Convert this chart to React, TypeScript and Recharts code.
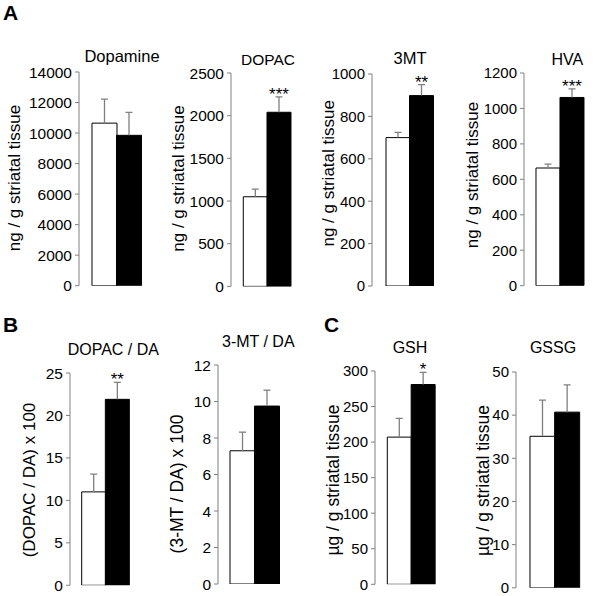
import React from 'react';
import { BarChart, Bar, XAxis, YAxis, Cell, LabelList } from 'recharts';

// ---------- data ----------
const groups = ['Control', 'Treated'];

const dopamineMean = [10650, 9850];
const dopamineSem = [1570, 1510];
const dopamineStars = ['', ''];
const dopamineTicks = [0, 2000, 4000, 6000, 8000, 10000, 12000, 14000];

const dopacMean = [1050, 2040];
const dopacSem = [90, 180];
const dopacStars = ['', '***'];
const dopacTicks = [0, 500, 1000, 1500, 2000, 2500];

const mt3Mean = [700, 898];
const mt3Sem = [25, 52];
const mt3Stars = ['', '**'];
const mt3Ticks = [0, 200, 400, 600, 800, 1000];

const hvaMean = [664, 1062];
const hvaSem = [22, 48];
const hvaStars = ['', '***'];
const hvaTicks = [0, 200, 400, 600, 800, 1000, 1200];

const dopacDaMean = [11.0, 21.9];
const dopacDaSem = [2.1, 2.0];
const dopacDaStars = ['', '**'];
const dopacDaTicks = [0, 5, 10, 15, 20, 25];

const mtDaMean = [7.3, 9.75];
const mtDaSem = [1.02, 0.87];
const mtDaStars = ['', ''];
const mtDaTicks = [0, 2, 4, 6, 8, 10, 12];

const gshMean = [207, 281];
const gshSem = [26.5, 17];
const gshStars = ['', '*'];
const gshTicks = [0, 50, 100, 150, 200, 250, 300];

const gssgMean = [35.1, 40.7];
const gssgSem = [8.4, 6.3];
const gssgStars = ['', ''];
const gssgTicks = [0, 10, 20, 30, 40, 50];

const titles = ['Dopamine', 'DOPAC', '3MT', 'HVA', 'DOPAC / DA', '3-MT / DA', 'GSH', 'GSSG'];
const yLabels = [
  'ng / g striatal tissue',
  'ng / g striatal tissue',
  'ng / g striatal tissue',
  'ng / g striatal tissue',
  '(DOPAC / DA) x 100',
  '(3-MT / DA) x 100',
  'µg / g striatal tissue',
  'µg / g striatal tissue',
];
const panelLetters = ['A', 'B', 'C'];

// ---------- styles / layout ----------
const FONT = '"Liberation Sans", Arial, Helvetica, sans-serif';
const GRAY = '#7f7f7f';

type Layout = {
  axisX: number; xEnd: number; yTop: number; yBot: number; barL: number; barR: number;
  tickSize: number; titleX: number; titleY: number; titleSize: number;
  labX: number; labY: number; labSize: number;
};

const layouts: Layout[] = [
  { axisX: 79, xEnd: 152, yTop: 72.3, yBot: 286, barL: 92, barR: 141, tickSize: 15.5, titleX: 122, titleY: 62, titleSize: 16.5, labX: 14.5, labY: 178, labSize: 17 },
  { axisX: 231, xEnd: 301.7, yTop: 73.3, yBot: 286.7, barL: 243.3, barR: 290.7, tickSize: 15.5, titleX: 268, titleY: 65, titleSize: 15.5, labX: 178.3, labY: 178.5, labSize: 17 },
  { axisX: 371.7, xEnd: 446.7, yTop: 74, yBot: 286, barL: 385.7, barR: 432.7, tickSize: 15, titleX: 410, titleY: 63.5, titleSize: 16.5, labX: 328.3, labY: 173.3, labSize: 17 },
  { axisX: 524, xEnd: 595.7, yTop: 73.3, yBot: 286, barL: 536, barR: 584, tickSize: 15, titleX: 567.3, titleY: 65, titleSize: 16, labX: 472, labY: 175, labSize: 17 },
  { axisX: 70, xEnd: 141.7, yTop: 372.7, yBot: 585, barL: 81.7, barR: 129, tickSize: 15.5, titleX: 113.3, titleY: 355, titleSize: 16, labX: 29, labY: 480, labSize: 17 },
  { axisX: 218, xEnd: 290, yTop: 365, yBot: 584, barL: 230, barR: 279, tickSize: 15.5, titleX: 258.3, titleY: 347, titleSize: 16, labX: 176.5, labY: 484, labSize: 17.5 },
  { axisX: 375, xEnd: 446, yTop: 371, yBot: 584.3, barL: 387.3, barR: 435, tickSize: 15, titleX: 410, titleY: 353, titleSize: 16, labX: 333, labY: 480, labSize: 17.5 },
  { axisX: 516, xEnd: 590, yTop: 371.7, yBot: 587.5, barL: 530, barR: 579.3, tickSize: 15, titleX: 553, titleY: 353, titleSize: 16, labX: 483, labY: 480.5, labSize: 17.5 },
];

const letterPos = [
  { x: 3, y: 19.5 },
  { x: 3, y: 332 },
  { x: 324, y: 332 },
];

const panelData = [
  { mean: dopamineMean, sem: dopamineSem, stars: dopamineStars, ticks: dopamineTicks },
  { mean: dopacMean, sem: dopacSem, stars: dopacStars, ticks: dopacTicks },
  { mean: mt3Mean, sem: mt3Sem, stars: mt3Stars, ticks: mt3Ticks },
  { mean: hvaMean, sem: hvaSem, stars: hvaStars, ticks: hvaTicks },
  { mean: dopacDaMean, sem: dopacDaSem, stars: dopacDaStars, ticks: dopacDaTicks },
  { mean: mtDaMean, sem: mtDaSem, stars: mtDaStars, ticks: mtDaTicks },
  { mean: gshMean, sem: gshSem, stars: gshStars, ticks: gshTicks },
  { mean: gssgMean, sem: gssgSem, stars: gssgStars, ticks: gssgTicks },
];

const barFills = ['#ffffff', '#000000'];

const ErrShape = (props: any) => {
  const { x, y, width, height } = props;
  const cx = x + width / 2;
  return (
    <g>
      <line x1={cx} y1={y + height} x2={cx} y2={y} stroke={GRAY} strokeWidth={1.3} />
      <line x1={cx - 3.5} y1={y} x2={cx + 3.5} y2={y} stroke={GRAY} strokeWidth={1.3} />
    </g>
  );
};

const StarLabel = (props: any) => {
  const { x, y, width, value } = props;
  if (!value) return null;
  return (
    <text x={x + width / 2} y={y + 3} textAnchor="middle" fontSize={17} fontFamily={FONT} fill="#000">
      {value}
    </text>
  );
};

const YW = 60;
const MT = 12;
const MB = 8;
const MR = 4;

function Panel({ idx }: { idx: number }) {
  const L = layouts[idx];
  const d = panelData[idx];
  const rows = groups.map((g, i) => ({ g, mean: d.mean[i], sem: d.sem[i], star: d.stars[i] }));
  const width = YW + (L.xEnd - L.axisX) + MR;
  const height = MT + (L.yBot - L.yTop) + MB;
  const maxTick = d.ticks[d.ticks.length - 1];
  return (
    <div style={{ position: 'absolute', left: L.axisX - YW, top: L.yTop - MT, width, height }}>
      <BarChart
        width={width}
        height={height}
        data={rows}
        margin={{ top: MT, right: MR, bottom: MB, left: 0 }}
        barCategoryGap={0}
        barGap={0}
      >
        <XAxis
          dataKey="g"
          tick={false}
          tickLine={false}
          height={0}
          axisLine={{ stroke: GRAY, strokeWidth: 1 }}
          padding={{ left: L.barL - L.axisX, right: L.xEnd - L.barR }}
        />
        <YAxis
          width={YW}
          domain={[0, maxTick]}
          ticks={d.ticks}
          interval={0}
          allowDataOverflow
          tickSize={4}
          tickMargin={3}
          axisLine={{ stroke: GRAY, strokeWidth: 1 }}
          tickLine={{ stroke: GRAY, strokeWidth: 1 }}
          tick={{ fontSize: L.tickSize, fill: '#000', fontFamily: FONT }}
        />
        <Bar dataKey="mean" stackId="s" isAnimationActive={false}>
          {rows.map((r, i) => (
            <Cell key={r.g} fill={barFills[i]} stroke="#000" strokeWidth={1} />
          ))}
        </Bar>
        <Bar dataKey="sem" stackId="s" isAnimationActive={false} shape={ErrShape}>
          <LabelList dataKey="star" content={StarLabel} />
        </Bar>
      </BarChart>
    </div>
  );
}

export default function App() {
  return (
    <div
      style={{
        position: 'absolute',
        left: 0,
        top: 0,
        width: 600,
        height: 596,
        background: '#fff',
        fontFamily: FONT,
        color: '#000',
        overflow: 'hidden',
      }}
    >
      {layouts.map((L, i) => (
        <Panel key={i} idx={i} />
      ))}
      <svg width={600} height={596} style={{ position: 'absolute', left: 0, top: 0, pointerEvents: 'none' }}>
        {layouts.map((L, i) => (
          <text key={'t' + i} x={L.titleX} y={L.titleY} textAnchor="middle" fontSize={L.titleSize} fontFamily={FONT} fill="#000">
            {titles[i]}
          </text>
        ))}
        {layouts.map((L, i) => (
          <text
            key={'y' + i}
            x={0}
            y={0}
            transform={`translate(${L.labX},${L.labY}) rotate(-90)`}
            textAnchor="middle"
            dominantBaseline="central"
            fontSize={L.labSize}
            fontFamily={FONT}
            fill="#000"
          >
            {yLabels[i]}
          </text>
        ))}
        {panelLetters.map((p, i) => (
          <text key={p} x={letterPos[i].x} y={letterPos[i].y} fontSize={21} fontWeight="bold" fontFamily={FONT} fill="#000">
            {p}
          </text>
        ))}
      </svg>
    </div>
  );
}
